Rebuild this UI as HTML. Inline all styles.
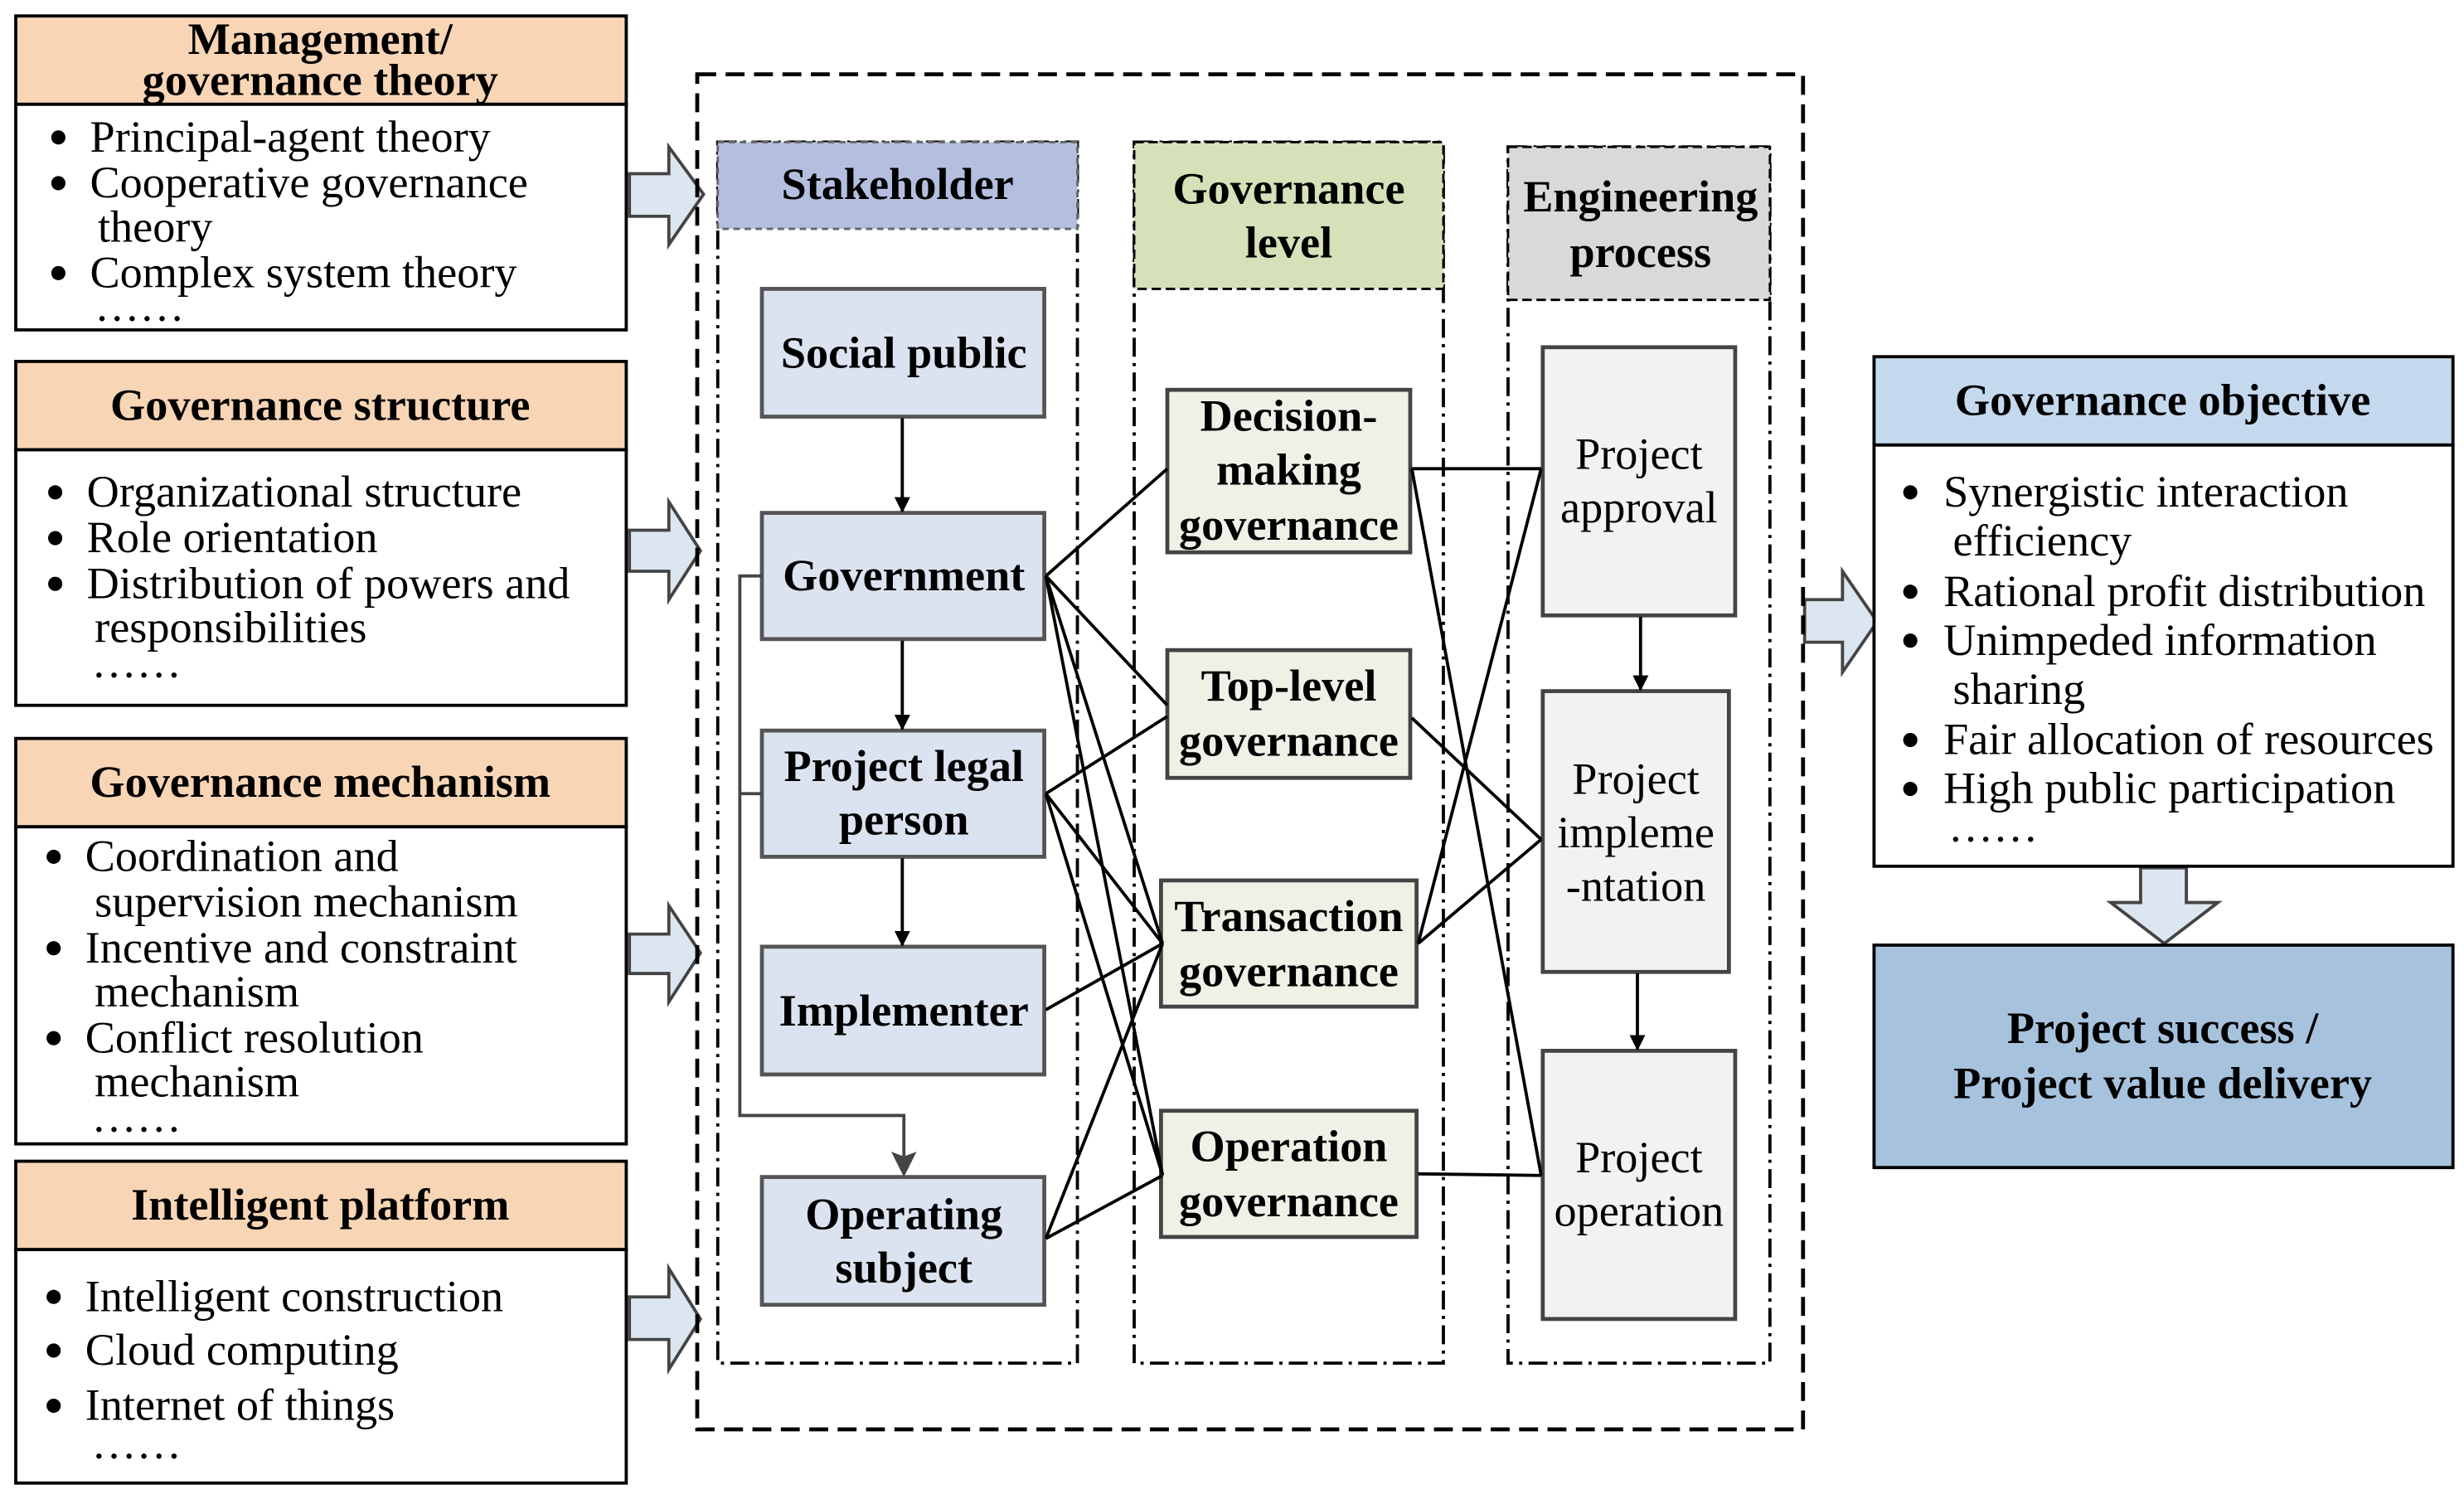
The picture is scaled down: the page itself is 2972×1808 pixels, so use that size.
<!DOCTYPE html>
<html><head><meta charset="utf-8"><style>
html,body{margin:0;padding:0;background:#fff;}
svg{display:block;}
text{font-family:"Liberation Serif","Times New Roman",serif;fill:#000;}
</style></head><body>
<svg width="2972" height="1808" viewBox="0 0 1562 950" xmlns="http://www.w3.org/2000/svg">
<defs>
<marker id="ar" markerWidth="10" markerHeight="10" refX="9" refY="5" orient="auto" markerUnits="userSpaceOnUse"><path d="M0,0 L10,5 L0,10 Z" fill="#000"/></marker>
<marker id="arg" markerWidth="16" markerHeight="16" refX="14" refY="8" orient="auto" markerUnits="userSpaceOnUse"><path d="M0,0 L16,8 L0,16 L3,8 Z" fill="#444"/></marker>
</defs>

<g stroke="#000" stroke-width="2">
<rect x="10" y="10" width="387" height="56" fill="#f8d5b5"/>
<rect x="10" y="66" width="387" height="143" fill="#fff"/>
<rect x="10" y="229" width="387" height="56" fill="#f8d5b5"/>
<rect x="10" y="285" width="387" height="162" fill="#fff"/>
<rect x="10" y="468" width="387" height="56" fill="#f8d5b5"/>
<rect x="10" y="524" width="387" height="201" fill="#fff"/>
<rect x="10" y="736" width="387" height="56" fill="#f8d5b5"/>
<rect x="10" y="792" width="387" height="148" fill="#fff"/>
</g>
<g font-size="28.5" text-anchor="middle" font-weight="bold">
<text x="203" y="34">Management/</text>
<text x="203" y="60">governance theory</text>
<text x="203" y="266">Governance structure</text>
<text x="203" y="505">Governance mechanism</text>
<text x="203" y="773">Intelligent platform</text>
</g>
<g fill="#000">
<circle cx="37" cy="87" r="4.5"/><circle cx="37" cy="116" r="4.5"/><circle cx="37" cy="173" r="4.5"/>
<circle cx="35" cy="312" r="4.5"/><circle cx="35" cy="341" r="4.5"/><circle cx="35" cy="370" r="4.5"/>
<circle cx="34" cy="543" r="4.5"/><circle cx="34" cy="601" r="4.5"/><circle cx="34" cy="658" r="4.5"/>
<circle cx="34" cy="822" r="4.5"/><circle cx="34" cy="856" r="4.5"/><circle cx="34" cy="891" r="4.5"/>
</g>
<g font-size="28.5">
<text x="57" y="96">Principal-agent theory</text>
<text x="57" y="125">Cooperative governance</text>
<text x="62" y="153">theory</text>
<text x="57" y="182">Complex system theory</text>
<text x="60" y="203">……</text>
<text x="55" y="321">Organizational structure</text>
<text x="55" y="350">Role orientation</text>
<text x="55" y="379">Distribution of powers and</text>
<text x="60" y="407">responsibilities</text>
<text x="58" y="429">……</text>
<text x="54" y="552">Coordination and</text>
<text x="60" y="581">supervision mechanism</text>
<text x="54" y="610">Incentive and constraint</text>
<text x="60" y="638">mechanism</text>
<text x="54" y="667">Conflict resolution</text>
<text x="60" y="695">mechanism</text>
<text x="58" y="717">……</text>
<text x="54" y="831">Intelligent construction</text>
<text x="54" y="865">Cloud computing</text>
<text x="54" y="900">Internet of things</text>
<text x="58" y="924">……</text>
</g>

<g fill="#dce6f1" stroke="#444" stroke-width="2">
<path d="M399,110 L424,110 L424,93 L446,123 L424,155 L424,137 L399,137 Z"/>
<path d="M399,336 L424,336 L424,318 L444,349 L424,380 L424,362 L399,362 Z"/>
<path d="M399,592 L424,592 L424,574 L444,604 L424,635 L424,617 L399,617 Z"/>
<path d="M399,822 L424,822 L424,804 L444,836 L424,868 L424,849 L399,849 Z"/>
<path d="M1144,380 L1168,380 L1168,362 L1190,394 L1168,426 L1168,407 L1144,407 Z"/>
<path d="M1357,550 L1357,572 L1338,572 L1372,598 L1406,572 L1386,572 L1386,550 Z"/>
</g>

<rect x="442" y="47" width="701" height="859" fill="none" stroke="#000" stroke-width="2.5" stroke-dasharray="12,6"/>

<g fill="none" stroke="#000" stroke-width="2" stroke-dasharray="12,4,2,4">
<rect x="455" y="90" width="228" height="774"/>
<rect x="719" y="90" width="196" height="774"/>
<rect x="956" y="93" width="166" height="771"/>
</g>
<rect x="455" y="90" width="228" height="55" fill="#b4bfe0" stroke="#666" stroke-width="1.5" stroke-dasharray="4,3"/>
<rect x="719" y="90" width="196" height="93" fill="#d5e1b8" stroke="#000" stroke-width="1.5" stroke-dasharray="6,3"/>
<rect x="956" y="93" width="166" height="97" fill="#d9d9d9" stroke="#000" stroke-width="1.5" stroke-dasharray="6,3"/>
<g font-size="28.5" text-anchor="middle" font-weight="bold">
<text x="569" y="126">Stakeholder</text>
<text x="817" y="129">Governance</text>
<text x="817" y="163">level</text>
<text x="1040" y="134">Engineering</text>
<text x="1040" y="169">process</text>
</g>

<g fill="#dce3f0" stroke="#555" stroke-width="2.5">
<rect x="483" y="183" width="179" height="81"/>
<rect x="483" y="325" width="179" height="80"/>
<rect x="483" y="463" width="179" height="80"/>
<rect x="483" y="600" width="179" height="81"/>
<rect x="483" y="746" width="179" height="81"/>
</g>
<g font-size="28.5" text-anchor="middle" font-weight="bold">
<text x="573" y="233">Social public</text>
<text x="573" y="374">Government</text>
<text x="573" y="495">Project legal</text>
<text x="573" y="529">person</text>
<text x="573" y="650">Implementer</text>
<text x="573" y="779">Operating</text>
<text x="573" y="813">subject</text>
</g>
<g fill="#eef1e6" stroke="#444" stroke-width="2.5">
<rect x="740" y="247" width="154" height="103"/>
<rect x="740" y="412" width="154" height="81"/>
<rect x="736" y="558" width="162" height="80"/>
<rect x="736" y="704" width="162" height="80"/>
</g>
<g font-size="28.5" text-anchor="middle" font-weight="bold">
<text x="817" y="273">Decision-</text>
<text x="817" y="307">making</text>
<text x="817" y="342">governance</text>
<text x="817" y="444">Top-level</text>
<text x="817" y="479">governance</text>
<text x="817" y="590">Transaction</text>
<text x="817" y="625">governance</text>
<text x="817" y="736">Operation</text>
<text x="817" y="771">governance</text>
</g>
<g fill="#f2f2f2" stroke="#444" stroke-width="2.5">
<rect x="978" y="220" width="122" height="170"/>
<rect x="978" y="438" width="118" height="178"/>
<rect x="978" y="666" width="122" height="170"/>
</g>
<g font-size="28.5" text-anchor="middle">
<text x="1039" y="297">Project</text>
<text x="1039" y="331">approval</text>
<text x="1037" y="503">Project</text>
<text x="1037" y="537">impleme</text>
<text x="1037" y="571">-ntation</text>
<text x="1039" y="743">Project</text>
<text x="1039" y="777">operation</text>
</g>

<g stroke="#000" stroke-width="2" fill="none" marker-end="url(#ar)">
<line x1="572" y1="265" x2="572" y2="324"/>
<line x1="572" y1="406" x2="572" y2="462"/>
<line x1="572" y1="544" x2="572" y2="599"/>
<line x1="1040" y1="391" x2="1040" y2="437"/>
<line x1="1038" y1="617" x2="1038" y2="665"/>
</g>
<path d="M483,365 L469,365 L469,707 L573,707 L573,744" stroke="#444" stroke-width="2" fill="none" marker-end="url(#arg)"/>
<line x1="469" y1="503" x2="483" y2="503" stroke="#444" stroke-width="2"/>

<g stroke="#000" stroke-width="2" fill="none">
<line x1="663" y1="365" x2="740" y2="297"/>
<line x1="663" y1="365" x2="740" y2="447"/>
<line x1="663" y1="365" x2="737" y2="598"/>
<line x1="663" y1="365" x2="737" y2="745"/>
<line x1="663" y1="503" x2="740" y2="454"/>
<line x1="663" y1="503" x2="737" y2="598"/>
<line x1="663" y1="503" x2="737" y2="745"/>
<line x1="663" y1="640" x2="737" y2="598"/>
<line x1="663" y1="785" x2="737" y2="598"/>
<line x1="663" y1="785" x2="737" y2="745"/>
<line x1="895" y1="297" x2="977" y2="297"/>
<line x1="895" y1="297" x2="977" y2="745"/>
<line x1="895" y1="455" x2="977" y2="532"/>
<line x1="899" y1="598" x2="977" y2="297"/>
<line x1="899" y1="598" x2="977" y2="532"/>
<line x1="899" y1="744" x2="977" y2="745"/>
</g>

<rect x="1188" y="226" width="367" height="56" fill="#c5d9ee" stroke="#000" stroke-width="2"/>
<rect x="1188" y="282" width="367" height="267" fill="#fff" stroke="#000" stroke-width="2"/>
<text x="1371" y="263" font-size="28.5" text-anchor="middle" font-weight="bold">Governance objective</text>
<g fill="#000">
<circle cx="1211" cy="312" r="4.5"/><circle cx="1211" cy="375" r="4.5"/><circle cx="1211" cy="406" r="4.5"/>
<circle cx="1211" cy="469" r="4.5"/><circle cx="1211" cy="500" r="4.5"/>
</g>
<g font-size="28.5">
<text x="1232" y="321">Synergistic interaction</text>
<text x="1238" y="352">efficiency</text>
<text x="1232" y="384">Rational profit distribution</text>
<text x="1232" y="415">Unimpeded information</text>
<text x="1238" y="446">sharing</text>
<text x="1232" y="478">Fair allocation of resources</text>
<text x="1232" y="509">High public participation</text>
<text x="1235" y="533">……</text>
</g>
<rect x="1188" y="599" width="367" height="141" fill="#a7c2dd" stroke="#000" stroke-width="2"/>
<text x="1371" y="661" font-size="28.5" text-anchor="middle" font-weight="bold">Project success /</text>
<text x="1371" y="696" font-size="28.5" text-anchor="middle" font-weight="bold">Project value delivery</text>
</svg>
</body></html>
